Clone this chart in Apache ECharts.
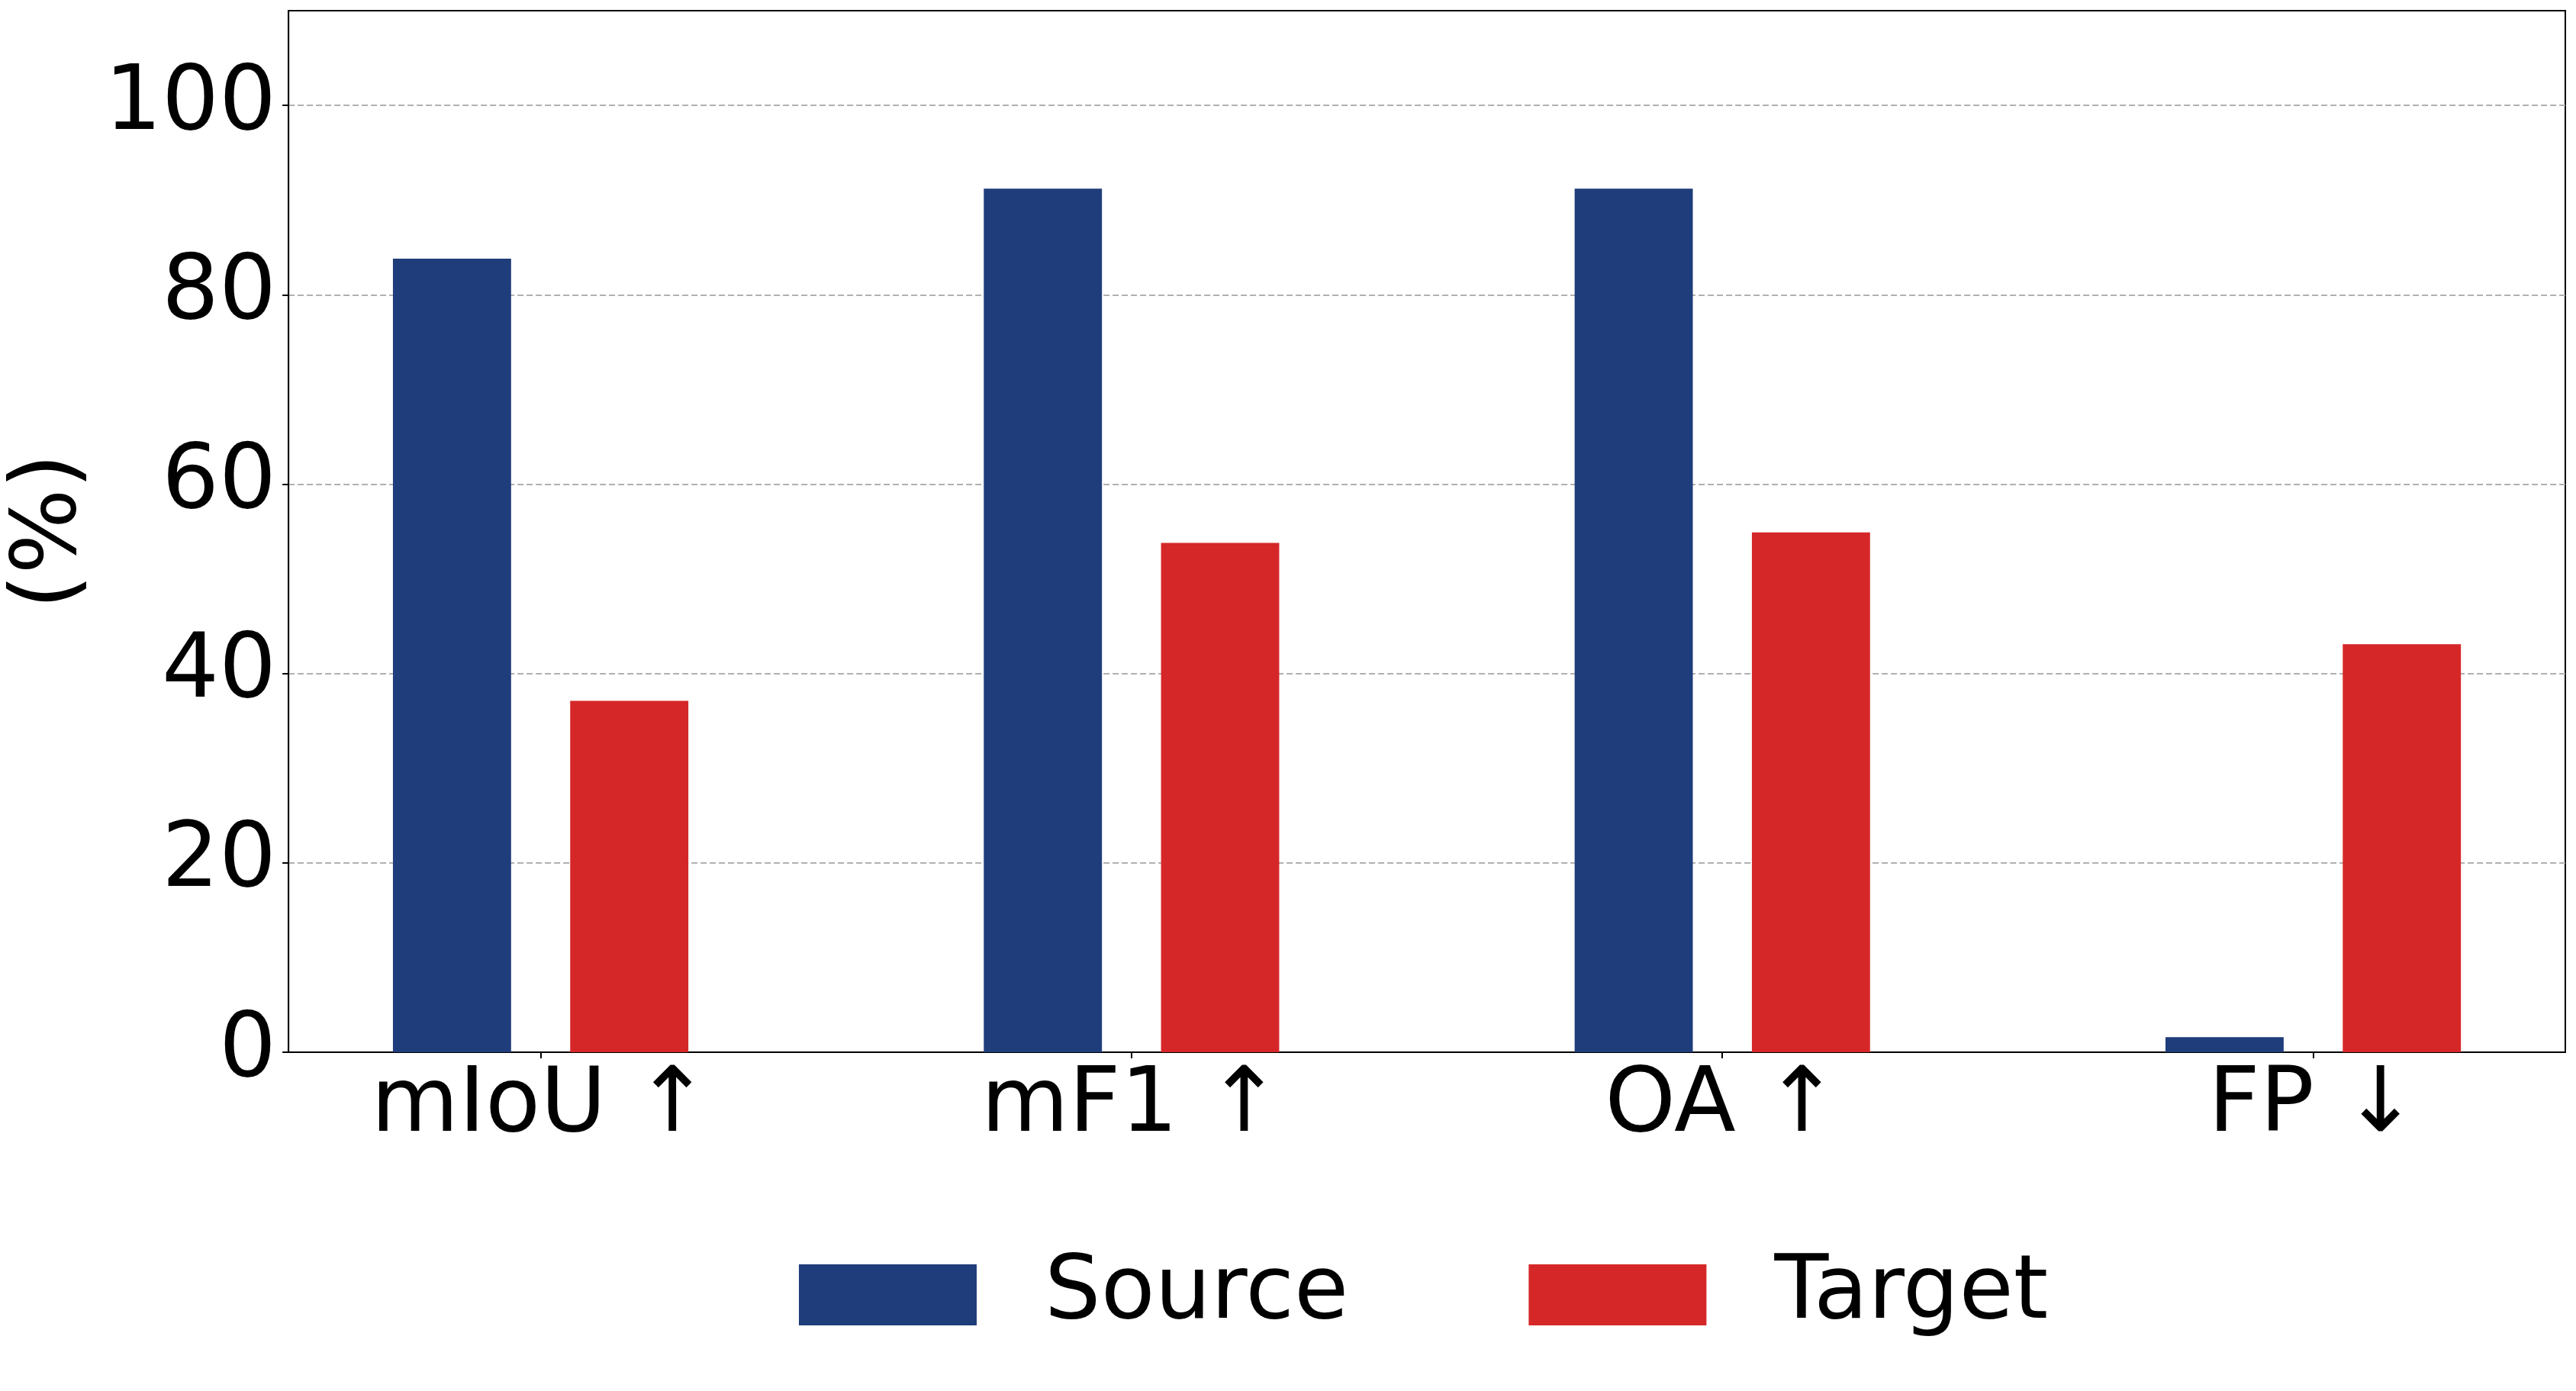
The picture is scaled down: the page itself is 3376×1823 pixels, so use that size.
<!DOCTYPE html>
<html>
<head>
<meta charset="utf-8">
<script src="https://cdn.jsdelivr.net/npm/echarts@6/dist/echarts.min.js"></script>
<style>
    html, body { margin: 0; padding: 0; background: #fff; }
    #main { width: 3376px; height: 1823px; }
</style>
</head>
<body>
<div id="main"></div>
<script type="text/javascript">
    // data
    var categories = ['mIoU ↑', 'mF1 ↑', 'OA ↑', 'FP ↓'];
    var sourceValues = [83.8, 91.2, 91.2, 1.6];
    var targetValues = [37.1, 53.8, 54.9, 43.1];
    var yTicks = [0, 20, 40, 60, 80, 100];
    var xTicks = [0, 1, 2, 3];

    var font = 'DejaVu Sans';
    var myChart = echarts.init(document.getElementById('main'));
    var option = {
        animation: false,
        backgroundColor: '#fff',
        color: ['#1f3d7a', '#d62728'],
        grid: {
            left: 373,
            top: 14,
            width: 2989,
            height: 1365,
            show: true,
            borderColor: '#000',
            borderWidth: 2,
            backgroundColor: 'transparent'
        },
        legend: {
            data: ['Source', 'Target'],
            left: 1042,
            top: 1634,
            icon: 'rect',
            itemWidth: 233,
            itemHeight: 80,
            itemGap: 236,
            textStyle: {
                fontFamily: font,
                fontSize: 116,
                color: '#000',
                padding: [0, 0, 0, 84]
            }
        },
        xAxis: {
            type: 'value',
            min: -0.4267,
            max: 3.4267,
            splitLine: {show: false},
            axisLine: {show: true, onZero: false, lineStyle: {color: '#000', width: 2}},
            axisTick: {show: true, customValues: xTicks, length: 8, lineStyle: {color: '#000', width: 2}},
            axisLabel: {
                customValues: xTicks,
                margin: 13,
                fontFamily: font,
                fontSize: 118,
                color: '#000',
                formatter: function (v) {
                    return categories[Math.round(v)];
                }
            }
        },
        yAxis: {
            type: 'value',
            min: 0,
            max: 110,
            interval: 20,
            name: '(%)',
            nameLocation: 'middle',
            nameRotate: 90,
            nameGap: 242,
            nameTextStyle: {fontFamily: font, fontSize: 118, color: '#000'},
            axisLine: {show: true, onZero: false, lineStyle: {color: '#000', width: 2}},
            axisTick: {show: true, customValues: yTicks, length: 8, lineStyle: {color: '#000', width: 2}},
            axisLabel: {
                customValues: yTicks,
                margin: 16,
                fontFamily: font,
                fontSize: 118,
                color: '#000'
            },
            splitLine: {
                show: true,
                lineStyle: {color: '#b0b0b0', width: 2, type: [8, 4]}
            }
        },
        series: [
            {
                name: 'Source',
                type: 'bar',
                barWidth: '20%',
                barGap: '50%',
                data: sourceValues.map(function (v, i) { return [xTicks[i], v]; })
            },
            {
                name: 'Target',
                type: 'bar',
                barWidth: '20%',
                barGap: '50%',
                data: targetValues.map(function (v, i) { return [xTicks[i], v]; })
            }
        ]
    };
    myChart.setOption(option);
</script>
</body>
</html>
